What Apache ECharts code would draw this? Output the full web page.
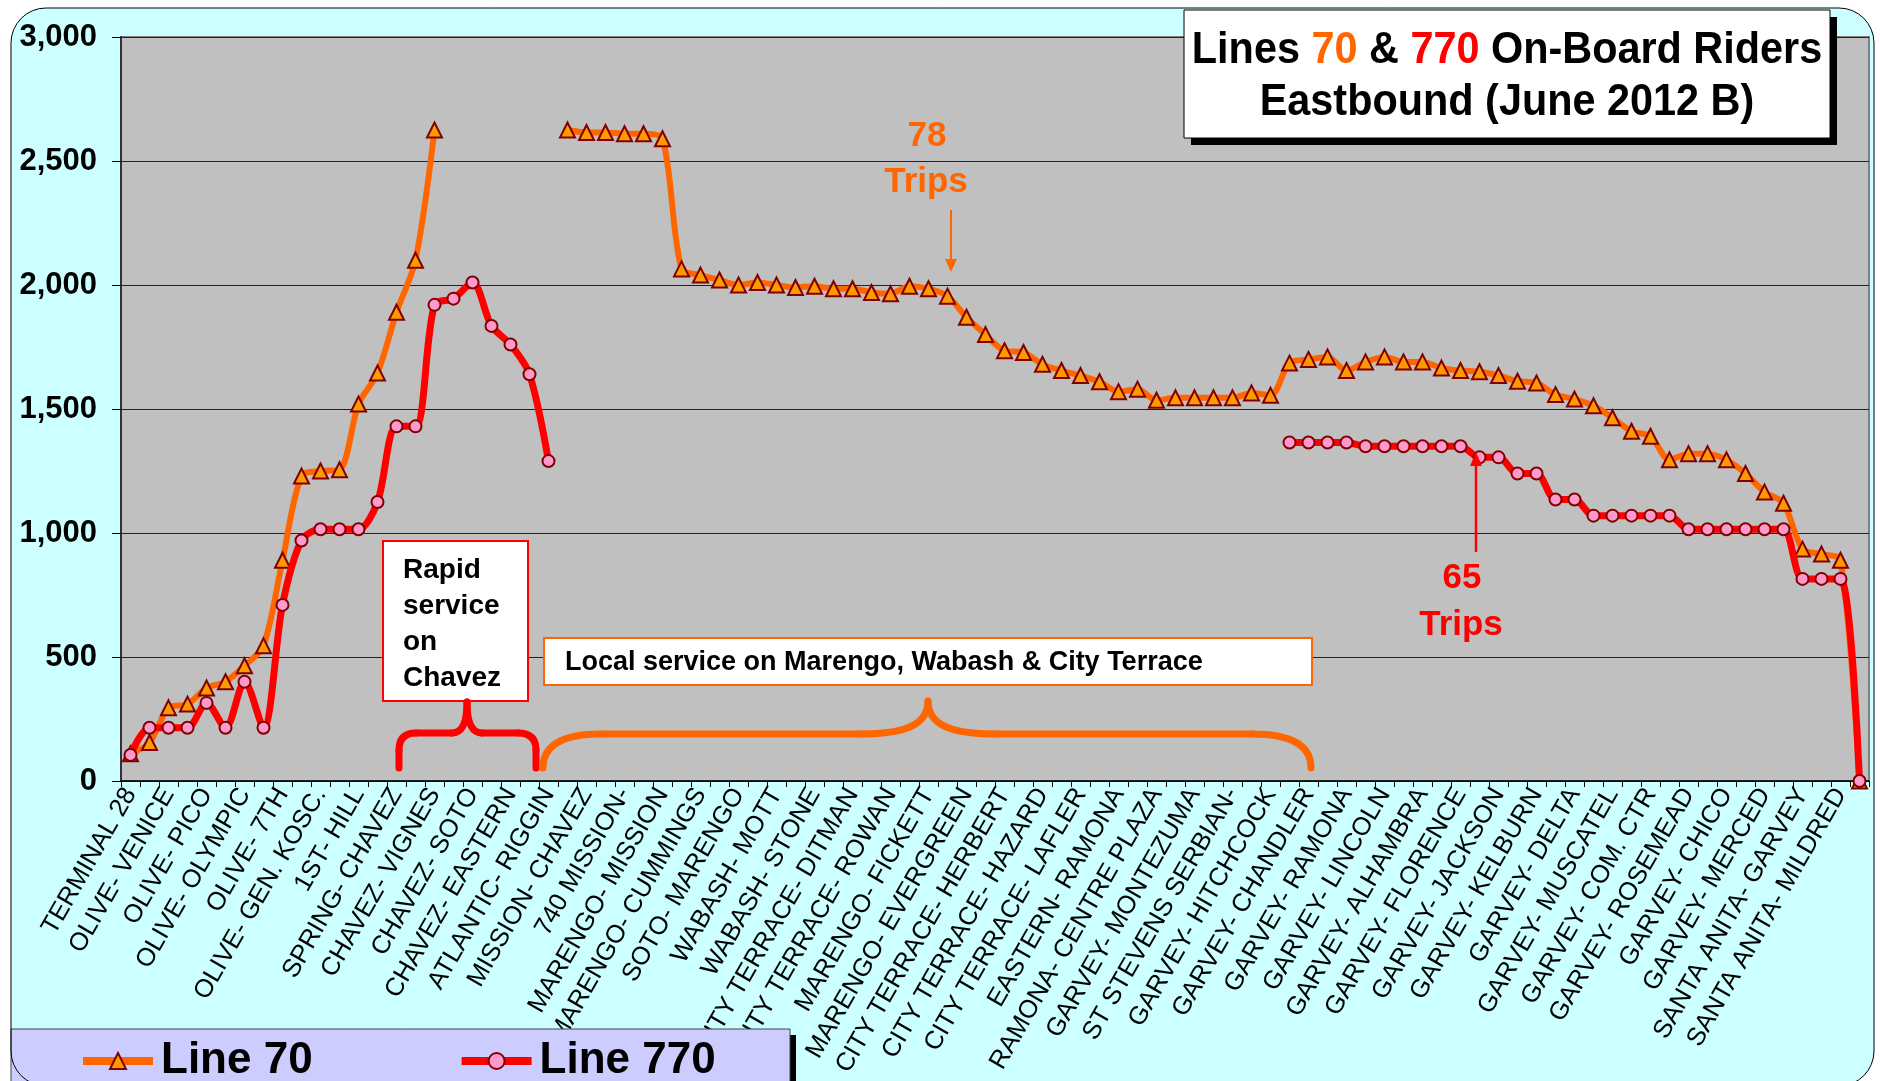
<!DOCTYPE html>
<html>
<head>
<meta charset="utf-8">
<script src="https://cdn.jsdelivr.net/npm/echarts@6/dist/echarts.min.js"></script>
<style>
html,body{margin:0;padding:0;background:#ffffff;}
#chart{width:1880px;height:1081px;}
</style>
</head>
<body>
<div id="chart"></div>
<script>
// Stop names shown under every other tick (even category positions)
const stopLabels = [
  'TERMINAL 28','OLIVE- VENICE','OLIVE- PICO','OLIVE- OLYMPIC','OLIVE- 7TH','OLIVE- GEN. KOSC.',
  '1ST- HILL','SPRING- CHAVEZ','CHAVEZ- VIGNES','CHAVEZ- SOTO','CHAVEZ- EASTERN','ATLANTIC- RIGGIN',
  'MISSION- CHAVEZ','740 MISSION-','MARENGO- MISSION','MARENGO- CUMMINGS','SOTO- MARENGO','WABASH- MOTT',
  'WABASH- STONE','CITY TERRACE- DITMAN','CITY TERRACE- ROWAN','MARENGO- FICKETT','MARENGO- EVERGREEN',
  'CITY TERRACE- HERBERT','CITY TERRACE- HAZARD','CITY TERRACE- LAFLER','EASTERN- RAMONA',
  'RAMONA- CENTRE PLAZA','GARVEY- MONTEZUMA','ST STEVENS SERBIAN-','GARVEY- HITCHCOCK','GARVEY- CHANDLER',
  'GARVEY- RAMONA','GARVEY- LINCOLN','GARVEY- ALHAMBRA','GARVEY- FLORENCE','GARVEY- JACKSON',
  'GARVEY- KELBURN','GARVEY- DELTA','GARVEY- MUSCATEL','GARVEY- COM. CTR','GARVEY- ROSEMEAD',
  'GARVEY- CHICO','GARVEY- MERCED','SANTA ANITA- GARVEY','SANTA ANITA- MILDRED'
];

// Line 70 on-board riders (92 stops)
const line70 = [
  110,155,295,310,375,400,465,545,890,1230,1250,1255,1520,1645,1890,2100,2625,
  null,null,null,null,null,null,
  2625,2615,2615,2610,2610,2590,2065,2040,2020,2000,2010,2000,1990,1995,1985,1985,1970,1965,
  1995,1985,1955,1870,1800,1735,1728,1680,1655,1635,1610,1570,1580,1535,1545,1545,1545,1545,
  1565,1555,1685,1700,1710,1655,1690,1710,1690,1690,1665,1655,1650,1635,1612,1605,1558,1540,
  1513,1465,1410,1390,1295,1320,1320,1295,1240,1165,1120,935,915,890,0
];

// Line 770 on-board riders (92 stops)
const line770 = [
  105,215,215,215,315,215,400,215,710,970,1015,1015,1015,1125,1430,1430,1920,1945,2010,1835,1760,1640,1290,
  null,null,null,null,null,null,null,null,null,null,null,null,null,null,null,null,null,null,null,null,
  null,null,null,null,null,null,null,null,null,null,null,null,null,null,null,null,null,null,
  1365,1365,1365,1365,1350,1350,1350,1350,1350,1350,1305,1305,1240,1240,1135,1135,
  1070,1070,1070,1070,1070,1015,1015,1015,1015,1015,1015,815,815,815,0
];

const yTicks = [0, 500, 1000, 1500, 2000, 2500, 3000];

const categories = [];
stopLabels.forEach(function (l) { categories.push(l); categories.push(''); });

const FONT = "'Liberation Sans', Arial, sans-serif";

const chart = echarts.init(document.getElementById('chart'));

function bold(px) { return "bold " + px + "px 'Liberation Sans', Arial, sans-serif"; }

const option = {
  animation: false,
  backgroundColor: 'transparent',
  textStyle: { fontFamily: FONT },
  grid: { left: 121, right: 11, top: 37, bottom: 300, containLabel: false, outerBoundsMode: 'none' },
  xAxis: {
    type: 'category',
    data: categories,
    boundaryGap: true,
    axisLine: { show: true, lineStyle: { color: '#000', width: 1.5 } },
    axisTick: { show: true, interval: 0, length: 6, lineStyle: { color: '#000' } },
    axisLabel: {
      interval: 1, rotate: 60, margin: 9,
      fontSize: 25.5, color: '#000', fontFamily: FONT
    },
    splitLine: { show: false }
  },
  yAxis: {
    type: 'value',
    min: yTicks[0], max: yTicks[yTicks.length - 1], interval: 500,
    axisLine: { show: true, lineStyle: { color: '#333', width: 2 } },
    axisTick: { show: true, length: 9, lineStyle: { color: '#000' } },
    axisLabel: {
      fontSize: 31, fontWeight: 'bold', color: '#000', margin: 24, fontFamily: FONT,
      formatter: function (v) { return v.toLocaleString('en-US'); }
    },
    splitLine: { show: true, lineStyle: { color: '#222', width: 1 } }
  },
  legend: {
    left: 74, top: 1034,
    itemWidth: 70, itemHeight: 20, itemGap: 145,
    lineStyle: { width: 8 },
    textStyle: { fontSize: 44, fontWeight: 'bold', color: '#000', fontFamily: FONT, padding: [0, 0, 0, 3] },
    data: ['Line 70', 'Line 770']
  },
  series: [
    {
      name: 'Line 70', type: 'line', data: line70,
      smooth: 0.3, connectNulls: false, showAllSymbol: true,
      symbol: 'triangle', symbolSize: 15,
      lineStyle: { color: '#FF6600', width: 6 },
      itemStyle: { color: '#FF9900', borderColor: '#800000', borderWidth: 2 },
      z: 3
    },
    {
      name: 'Line 770', type: 'line', data: line770,
      smooth: 0.3, connectNulls: false, showAllSymbol: true,
      symbol: 'circle', symbolSize: 12,
      lineStyle: { color: '#FF0000', width: 7 },
      itemStyle: { color: '#FF99CC', borderColor: '#800000', borderWidth: 2 },
      z: 4
    }
  ],
  graphic: [
    // chart area background (cyan, rounded frame)
    { type: 'rect', z: -100, shape: { x: 11, y: 8, width: 1863, height: 1078, r: 35 },
      style: { fill: '#CCFFFF', stroke: null } },
    // plot area background
    { type: 'rect', z: -90, shape: { x: 121, y: 37, width: 1748, height: 744 },
      style: { fill: '#C0C0C0', stroke: '#808080', lineWidth: 2 } },
    // legend box shadow + box
    { type: 'rect', z: 2, shape: { x: 17, y: 1035, width: 779, height: 60 }, style: { fill: '#000' } },
    { type: 'rect', z: 2, shape: { x: 11, y: 1029, width: 779, height: 60 },
      style: { fill: '#CCCCFF', stroke: '#444', lineWidth: 1 } },
    // frame outline
    { type: 'rect', z: 3, shape: { x: 11, y: 8, width: 1863, height: 1078, r: 35 },
      style: { fill: null, stroke: '#000', lineWidth: 1 } },
    // title box
    { type: 'rect', z: 10, shape: { x: 1191, y: 17, width: 646, height: 128 }, style: { fill: '#000' } },
    { type: 'rect', z: 10, shape: { x: 1184, y: 10, width: 646, height: 128 },
      style: { fill: '#fff', stroke: '#000', lineWidth: 1 } },
    { type: 'text', z: 11, x: 1507, y: 51, scaleX: 0.92,
      style: {
        text: '{b|Lines }{o|70}{b| & }{r|770}{b| On-Board Riders}',
        align: 'center', verticalAlign: 'middle',
        rich: {
          b: { fontSize: 45, fontWeight: 'bold', fill: '#000', fontFamily: FONT },
          o: { fontSize: 45, fontWeight: 'bold', fill: '#FF6600', fontFamily: FONT },
          r: { fontSize: 45, fontWeight: 'bold', fill: '#FF0000', fontFamily: FONT }
        }
      } },
    { type: 'text', z: 11, x: 1507, y: 103, scaleX: 0.92,
      style: { text: 'Eastbound (June 2012 B)', align: 'center', verticalAlign: 'middle',
        font: bold(45), fill: '#000' } },
    // Rapid service box
    { type: 'rect', z: 10, shape: { x: 383, y: 541, width: 145, height: 160 },
      style: { fill: '#fff', stroke: '#FF0000', lineWidth: 2 } },
    { type: 'text', z: 11, x: 403, y: 552,
      style: { text: 'Rapid\nservice\non\nChavez', align: 'left', verticalAlign: 'top',
        font: bold(28), lineHeight: 36, fill: '#000' } },
    // Local service box
    { type: 'rect', z: 10, shape: { x: 544, y: 638, width: 768, height: 47 },
      style: { fill: '#fff', stroke: '#FF6600', lineWidth: 2 } },
    { type: 'text', z: 11, x: 565, y: 663,
      style: { text: 'Local service on Marengo, Wabash & City Terrace', align: 'left', verticalAlign: 'middle',
        font: bold(27), fill: '#000' } },
    // Red brace
    { type: 'line', z: 10, shape: { x1: 399, y1: 768, x2: 399, y2: 750 }, style: { stroke: '#FF0000', lineWidth: 7, lineCap: 'round' } },
    { type: 'bezierCurve', z: 10, shape: { x1: 399, y1: 750, cpx1: 399, cpy1: 733, x2: 416, y2: 733 }, style: { stroke: '#FF0000', lineWidth: 7, fill: null, lineCap: 'round' } },
    { type: 'line', z: 10, shape: { x1: 416, y1: 733, x2: 452, y2: 733 }, style: { stroke: '#FF0000', lineWidth: 7, lineCap: 'round' } },
    { type: 'bezierCurve', z: 10, shape: { x1: 452, y1: 733, cpx1: 467, cpy1: 733, x2: 467, y2: 702 }, style: { stroke: '#FF0000', lineWidth: 7, fill: null, lineCap: 'round' } },
    { type: 'bezierCurve', z: 10, shape: { x1: 467, y1: 702, cpx1: 467, cpy1: 733, x2: 482, y2: 733 }, style: { stroke: '#FF0000', lineWidth: 7, fill: null, lineCap: 'round' } },
    { type: 'line', z: 10, shape: { x1: 482, y1: 733, x2: 518, y2: 733 }, style: { stroke: '#FF0000', lineWidth: 7, lineCap: 'round' } },
    { type: 'bezierCurve', z: 10, shape: { x1: 518, y1: 733, cpx1: 536, cpy1: 733, x2: 536, y2: 750 }, style: { stroke: '#FF0000', lineWidth: 7, fill: null, lineCap: 'round' } },
    { type: 'line', z: 10, shape: { x1: 536, y1: 750, x2: 536, y2: 768 }, style: { stroke: '#FF0000', lineWidth: 7, lineCap: 'round' } },
    // Orange brace
    { type: 'bezierCurve', z: 10, shape: { x1: 543, y1: 768, cpx1: 543, cpy1: 734, x2: 601, y2: 734 }, style: { stroke: '#FF6600', lineWidth: 7, fill: null, lineCap: 'round' } },
    { type: 'line', z: 10, shape: { x1: 601, y1: 734, x2: 860, y2: 734 }, style: { stroke: '#FF6600', lineWidth: 7, lineCap: 'round' } },
    { type: 'bezierCurve', z: 10, shape: { x1: 860, y1: 734, cpx1: 905, cpy1: 734, cpx2: 928, cpy2: 725, x2: 928, y2: 701 }, style: { stroke: '#FF6600', lineWidth: 7, fill: null, lineCap: 'round' } },
    { type: 'bezierCurve', z: 10, shape: { x1: 928, y1: 701, cpx1: 928, cpy1: 725, cpx2: 951, cpy2: 734, x2: 996, y2: 734 }, style: { stroke: '#FF6600', lineWidth: 7, fill: null, lineCap: 'round' } },
    { type: 'line', z: 10, shape: { x1: 996, y1: 734, x2: 1252, y2: 734 }, style: { stroke: '#FF6600', lineWidth: 7, lineCap: 'round' } },
    { type: 'bezierCurve', z: 10, shape: { x1: 1252, y1: 734, cpx1: 1311, cpy1: 734, x2: 1311, y2: 768 }, style: { stroke: '#FF6600', lineWidth: 7, fill: null, lineCap: 'round' } },
    // 78 Trips
    { type: 'text', z: 11, x: 927, y: 136,
      style: { text: '78', align: 'center', verticalAlign: 'middle', font: bold(35), fill: '#FF6600' } },
    { type: 'text', z: 11, x: 926, y: 182,
      style: { text: 'Trips', align: 'center', verticalAlign: 'middle', font: bold(35), fill: '#FF6600' } },
    { type: 'line', z: 11, shape: { x1: 951, y1: 210, x2: 951, y2: 262 }, style: { stroke: '#FF6600', lineWidth: 2 } },
    { type: 'polygon', z: 11, shape: { points: [[945, 259], [957, 259], [951, 272]] }, style: { fill: '#FF6600' } },
    // 65 Trips
    { type: 'text', z: 11, x: 1462, y: 578,
      style: { text: '65', align: 'center', verticalAlign: 'middle', font: bold(35), fill: '#FF0000' } },
    { type: 'text', z: 11, x: 1461, y: 625,
      style: { text: 'Trips', align: 'center', verticalAlign: 'middle', font: bold(35), fill: '#FF0000' } },
    { type: 'line', z: 11, shape: { x1: 1476, y1: 552, x2: 1476, y2: 462 }, style: { stroke: '#FF0000', lineWidth: 2.5 } },
    { type: 'polygon', z: 11, shape: { points: [[1470, 466], [1482, 466], [1476, 452]] }, style: { fill: '#FF0000' } }
  ]
};

chart.setOption(option);
</script>
</body>
</html>
